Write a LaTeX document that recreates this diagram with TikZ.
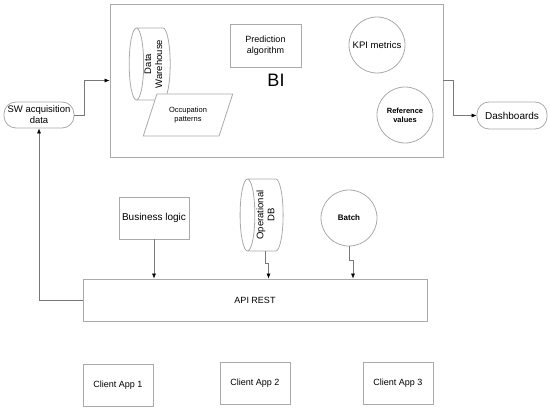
\documentclass[tikz,border=0pt]{standalone}
\usepackage{fontspec}
\setmainfont{Liberation Sans}
\usepackage{tikz}
\usetikzlibrary{arrows.meta,positioning,calc,shapes.geometric}
\definecolor{boxgray}{RGB}{170,170,170}
\definecolor{linegray}{RGB}{120,120,120}

\begin{document}
\begin{tikzpicture}[x=1pt,y=-1pt,
  every node/.style={draw=boxgray,line width=0.8pt,inner sep=1pt,align=center,font=\fontsize{9}{10.5}\selectfont},
  box/.style={rectangle},
  term/.style={rectangle,rounded corners=12pt},
  ball/.style={circle,minimum size=56pt},
  db/.style={cylinder,shape border rotate=90,aspect=0.3,rotate=90,inner sep=0pt,font=\fontsize{9.5}{11}\selectfont},
  arr/.style={draw=linegray,line width=0.6pt,-{Latex[length=5pt,width=4pt,color=black]}}]
\useasboundingbox (0,0) rectangle (550,412);
% BI block
\node[box,minimum width=333,minimum height=153] (bi) at (276.5,80.5) {};
\node[draw=none,font=\fontsize{18}{20}\selectfont] (bitext) at (276,80) {BI};
\node[db,minimum width=72,minimum height=41] (dw) at (153.5,64) {Data\\Warehouse};
\node[trapezium,trapezium left angle=64,trapezium right angle=116,trapezium stretches=true,
  minimum width=90,minimum height=42,fill=white,font=\fontsize{7.5}{9}\selectfont] (occ) at (188,115) {Occupation\\patterns};
\node[box,minimum width=71,minimum height=43] (pred) at (265.5,45.5) {Prediction\\algorithm};
\node[ball,font=\fontsize{9.5}{11}\selectfont] (kpi) at (377,45) {KPI metrics};
\node[ball,font=\bfseries\fontsize{7.5}{9}\selectfont] (ref) at (405,115) {Reference\\values};
% in / out
\node[term,minimum width=70,minimum height=26,font=\fontsize{9.5}{11}\selectfont] (sw) at (39,115) {SW acquisition\\data};
\node[term,minimum width=70,minimum height=27,font=\fontsize{10}{11}\selectfont] (dash) at (512,115.5) {Dashboards};
% backend
\node[box,minimum width=70,minimum height=42,font=\fontsize{10}{11}\selectfont] (bl) at (154,218) {Business logic};
\node[db,minimum width=72,minimum height=43] (odb) at (265.5,215) {Operational\\DB};
\node[ball,font=\bfseries\fontsize{8}{9}\selectfont] (batch) at (349,218) {Batch};
\node[box,minimum width=344,minimum height=42] (api) at (255,300) {API REST};
% clients
\node[box,minimum width=70,minimum height=42] (app1) at (118,385) {Client App 1};
\node[box,minimum width=70,minimum height=42] (app2) at (255,383) {Client App 2};
\node[box,minimum width=70,minimum height=42] (app3) at (398,383) {Client App 3};

\draw[arr] (sw.east) -- ++(10,0) |- (bi.west);
\draw[arr] (bi.east) -- ++(10,0) |- (dash.west);
\draw[arr] (api.west) -| (sw.south);
\draw[arr] (bl.south) -- (bl.south |- api.north);
\draw[arr] (odb.west) -- ++(0,12) -| ([xshift=3]odb.west |- api.north);
\draw[arr] (batch.south) -- ++(0,14) -| ([xshift=4]batch.south |- api.north);
\end{tikzpicture}
\end{document}
